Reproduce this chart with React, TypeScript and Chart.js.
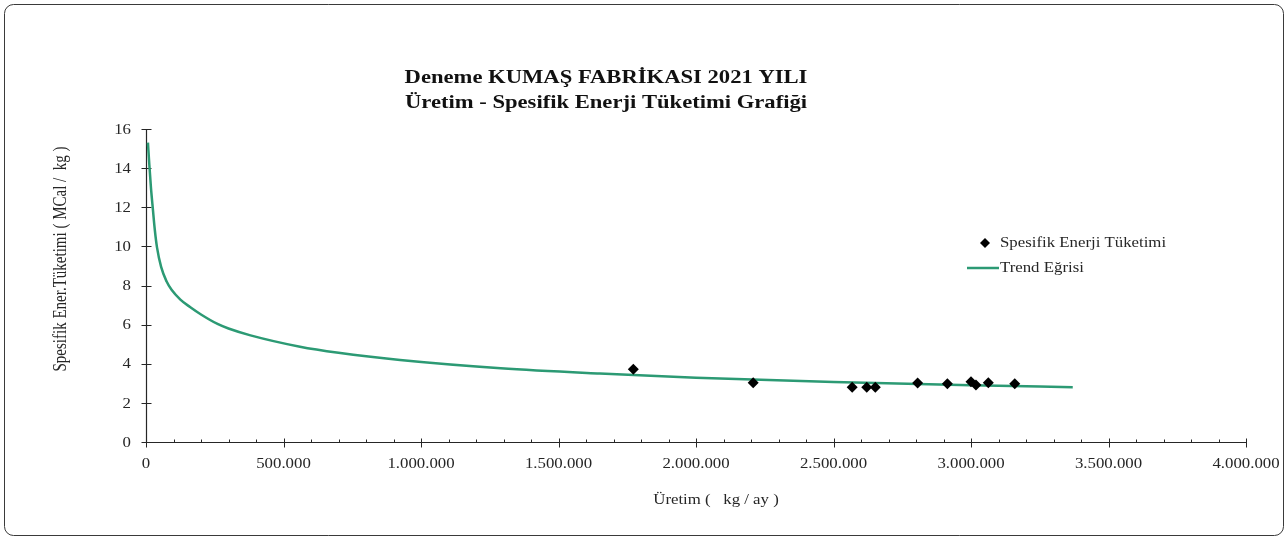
import React, { useEffect, useRef } from "react";
import { Chart, registerables } from "chart.js";

Chart.register(...registerables);

const titleLines = ["Deneme KUMAŞ FABRİKASI 2021 YILI", "Üretim - Spesifik Enerji Tüketimi Grafiği"];
const xAxisTitle = "Üretim (   kg / ay )";
const yAxisTitle = "Spesifik Ener.Tüketimi ( MCal /  kg )";
const seriesLabels = ["Spesifik Enerji Tüketimi", "Trend Eğrisi"];

// Measured points
const pointX = [1772000, 2208000, 2568000, 2621000, 2652000, 2806000, 2914000, 3000000, 3018000, 3063000, 3159000];
const pointY = [3.72, 3.03, 2.8, 2.8, 2.8, 3.02, 2.98, 3.08, 2.91, 3.03, 2.98];

// Trend curve
const trendX = [7000, 12000, 18000, 25000, 32000, 40000, 55000, 75000, 93000, 125000, 160000, 200000, 262000, 300000, 380000, 560000, 700000, 924000, 1290000, 1650000, 2000000, 2500000, 3000000, 3370000];
const trendY = [15.3, 14.2, 13.0, 11.9, 10.85, 9.95, 8.95, 8.2, 7.78, 7.28, 6.9, 6.52, 6.02, 5.8, 5.45, 4.87, 4.56, 4.19, 3.77, 3.5, 3.29, 3.07, 2.9, 2.8];

const xMin = 0;
const xMax = 4000000;
const xStep = 500000;
const xMinorStep = 100000;
const yMin = 0;
const yMax = 16;
const yStep = 2;

const SERIF = "'Liberation Serif', 'Times New Roman', serif";
const TEXT = "#262626";
const AXIS = "#262626";
const GREEN = "#2c9a74";
const STRETCH = 1.2;

const fmt = (v: number) => String(Math.round(v)).replace(/\B(?=(\d{3})+(?!\d))/g, ".");

function stretchedText(ctx: CanvasRenderingContext2D, text: string, x: number, y: number, sx: number) {
  ctx.save();
  ctx.translate(x, y);
  ctx.scale(sx, 1);
  ctx.fillText(text, 0, 0);
  ctx.restore();
}

const decorPlugin = {
  id: "decor",
  beforeDatasetsDraw(chart: any) {
    const ctx = chart.ctx as CanvasRenderingContext2D;
    const xs = chart.scales.x;
    const ys = chart.scales.y;
    const ca = chart.chartArea;
    ctx.save();
    ctx.strokeStyle = AXIS;
    ctx.lineWidth = 1.2;
    const ax = Math.round(ca.left) + 0.5;
    const ay = Math.round(ca.bottom) + 0.5;
    ctx.beginPath();
    ctx.moveTo(ax, Math.round(ca.top));
    ctx.lineTo(ax, ay);
    ctx.lineTo(Math.round(ca.right), ay);
    ctx.stroke();
    ctx.lineWidth = 1;
    for (let v = yMin; v <= yMax; v += yStep) {
      const py = Math.round(ys.getPixelForValue(v)) + 0.5;
      ctx.beginPath();
      ctx.moveTo(ax - 5, py);
      ctx.lineTo(ax + 5, py);
      ctx.stroke();
    }
    for (let v = xMin; v <= xMax; v += xMinorStep) {
      const px = Math.round(xs.getPixelForValue(v)) + 0.5;
      const major = v % xStep === 0;
      ctx.beginPath();
      ctx.moveTo(px, ay - (major ? 4 : 3));
      ctx.lineTo(px, ay + (major ? 5 : 0));
      ctx.stroke();
    }

    // tick labels
    ctx.fillStyle = TEXT;
    ctx.font = `14px ${SERIF}`;
    ctx.textBaseline = "middle";
    ctx.textAlign = "right";
    ys.ticks.forEach((t: any) => {
      stretchedText(ctx, String(t.value), 131, ys.getPixelForValue(t.value) + 1, STRETCH);
    });
    ctx.textAlign = "center";
    xs.ticks.forEach((t: any) => {
      stretchedText(ctx, fmt(t.value), xs.getPixelForValue(t.value), 464, STRETCH);
    });
    ctx.restore();
  },
  afterDraw(chart: any) {
    const ctx = chart.ctx as CanvasRenderingContext2D;
    ctx.save();
    ctx.strokeStyle = "#3a3a3a";
    ctx.lineWidth = 1;
    ctx.beginPath();
    (ctx as any).roundRect(4.5, 4.5, 1279, 531, 9);
    ctx.stroke();

    // title
    ctx.fillStyle = "#111111";
    ctx.font = `bold 19px ${SERIF}`;
    ctx.textAlign = "center";
    ctx.textBaseline = "middle";
    stretchedText(ctx, titleLines[0], 606, 78, 1.19);
    stretchedText(ctx, titleLines[1], 606, 103, 1.19);

    // axis titles
    ctx.fillStyle = TEXT;
    ctx.font = `14px ${SERIF}`;
    stretchedText(ctx, xAxisTitle, 716, 500, STRETCH);
    ctx.save();
    ctx.font = `15px ${SERIF}`;
    ctx.translate(61, 259);
    ctx.rotate(-Math.PI / 2);
    ctx.scale(1, STRETCH);
    ctx.fillText(yAxisTitle, 0, 0);
    ctx.restore();

    // legend
    ctx.textAlign = "left";
    ctx.font = `14px ${SERIF}`;
    ctx.fillStyle = "#000000";
    ctx.beginPath();
    ctx.moveTo(985, 238);
    ctx.lineTo(990, 243);
    ctx.lineTo(985, 248);
    ctx.lineTo(980, 243);
    ctx.closePath();
    ctx.fill();
    ctx.fillStyle = TEXT;
    stretchedText(ctx, seriesLabels[0], 1000, 243, STRETCH);
    ctx.strokeStyle = GREEN;
    ctx.lineWidth = 2.5;
    ctx.beginPath();
    ctx.moveTo(967, 268);
    ctx.lineTo(999, 268);
    ctx.stroke();
    stretchedText(ctx, seriesLabels[1], 1000, 268, STRETCH);
    ctx.restore();
  },
};

export default function App() {
  const ref = useRef<HTMLCanvasElement | null>(null);
  useEffect(() => {
    if (!ref.current) return;
    const chart = new Chart(ref.current, {
      type: "scatter",
      data: {
        datasets: [
          {
            label: seriesLabels[0],
            data: pointX.map((x, i) => ({ x, y: pointY[i] })),
            pointStyle: "rectRot",
            pointRadius: 5.5,
            backgroundColor: "#000000",
            borderColor: "#000000",
            borderWidth: 0,
            order: 0,
          },
          {
            label: seriesLabels[1],
            data: trendX.map((x, i) => ({ x, y: trendY[i] })),
            showLine: true,
            pointRadius: 0,
            borderColor: GREEN,
            borderWidth: 2.5,
            cubicInterpolationMode: "monotone",
            order: 1,
          },
        ],
      },
      options: {
        responsive: false,
        animation: false,
        devicePixelRatio: 1,
        layout: { padding: { left: 0, right: 42, top: 129, bottom: 0 } },
        plugins: { legend: { display: false }, title: { display: false }, tooltip: { enabled: false } },
        scales: {
          x: {
            type: "linear",
            min: xMin,
            max: xMax,
            grid: { display: false, drawTicks: false },
            border: { display: false },
            ticks: { stepSize: xStep, display: false, autoSkip: false, maxRotation: 0 },
            afterFit: (s: any) => {
              s.height = 97;
            },
          },
          y: {
            type: "linear",
            min: yMin,
            max: yMax,
            grid: { display: false, drawTicks: false },
            border: { display: false },
            ticks: { stepSize: yStep, display: false },
            afterFit: (s: any) => {
              s.width = 146;
            },
          },
        },
      } as any,
      plugins: [decorPlugin],
    });
    return () => chart.destroy();
  }, []);
  return (
    <div style={{ position: "fixed", left: 0, top: 0, width: 1288, height: 539, background: "#ffffff" }}>
      <canvas ref={ref} width={1288} height={539} />
    </div>
  );
}
